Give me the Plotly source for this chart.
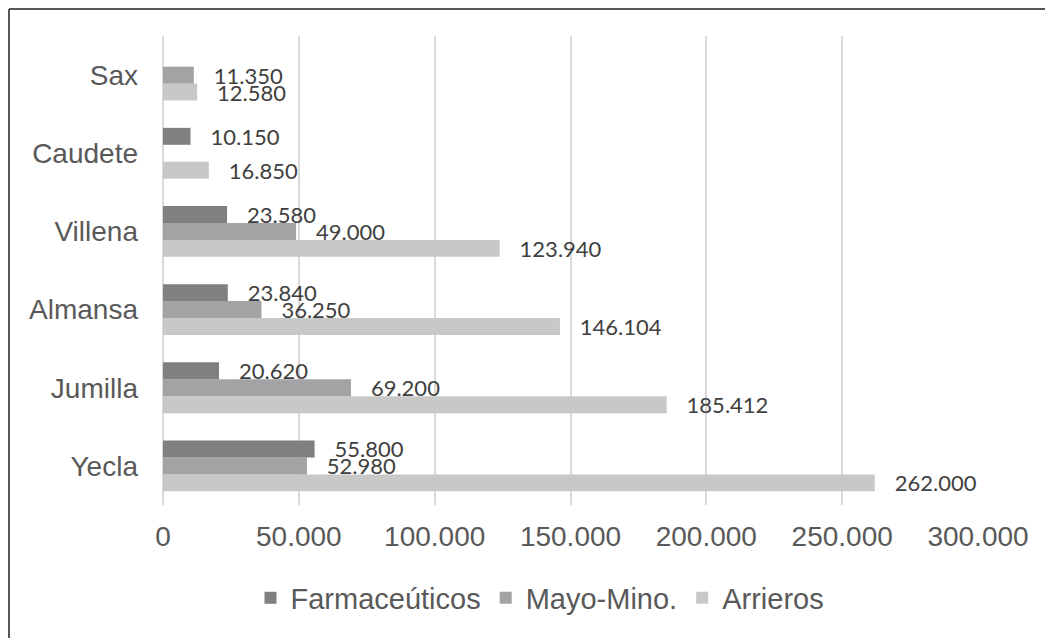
import plotly.graph_objects as go

categories = ["Yecla", "Jumilla", "Almansa", "Villena", "Caudete", "Sax"]
farmaceuticos = [55800, 20620, 23840, 23580, 10150, None]
mayo_mino = [52980, 69200, 36250, 49000, None, 11350]
arrieros = [262000, 185412, 146104, 123940, 16850, 12580]
x_ticks = [0, 50000, 100000, 150000, 200000, 250000, 300000]

series = [
    ("Arrieros", arrieros, "#c8c8c8"),
    ("Mayo-Mino.", mayo_mino, "#a3a3a6"),
    ("Farmaceúticos", farmaceuticos, "#808082"),
]

fig = go.Figure()
for name, vals, color in series:
    fig.add_trace(go.Bar(
        y=categories, x=vals, name=name, orientation="h",
        marker=dict(color=color, line=dict(width=0)),
        texttemplate="\u00a0\u00a0\u00a0%{x:,d}",
        textposition="outside",
        constraintext="none",
        cliponaxis=False,
        textfont=dict(family="Lato", size=22, color="#404040"),
    ))

fig.update_layout(
    width=1053, height=638,
    barmode="group", bargap=0.35, bargroupgap=0,
    separators=",.",
    plot_bgcolor="white", paper_bgcolor="white",
    margin=dict(l=155, r=83, t=28, b=141, autoexpand=False),
    font=dict(family="Liberation Sans", size=28, color="#595959"),
    legend=dict(orientation="h", traceorder="reversed",
                x=0.4626, xanchor="center", y=-0.198, yanchor="middle",
                font=dict(size=29, color="#595959"), itemwidth=30),
    xaxis=dict(range=[0, 300000], tickvals=x_ticks, tickformat=",d",
               showgrid=True, gridcolor="#d9d9d9", gridwidth=1.5,
               zeroline=True, zerolinecolor="#d9d9d9", zerolinewidth=1.5,
               ticks="", ticklabelstandoff=12, fixedrange=True),
    yaxis=dict(categoryorder="array", categoryarray=categories,
               showgrid=False, ticks="", ticklabelstandoff=24, fixedrange=True),
    shapes=[
        dict(type="line", xref="paper", yref="paper", x0=-0.189, x1=1.2,
             y0=1.0576, y1=1.0576, line=dict(color="#555555", width=2)),
        dict(type="line", xref="paper", yref="paper", x0=-0.189, x1=-0.189,
             y0=1.0576, y1=-0.35, line=dict(color="#555555", width=2)),
    ],
)

fig.write_html("out.html")
